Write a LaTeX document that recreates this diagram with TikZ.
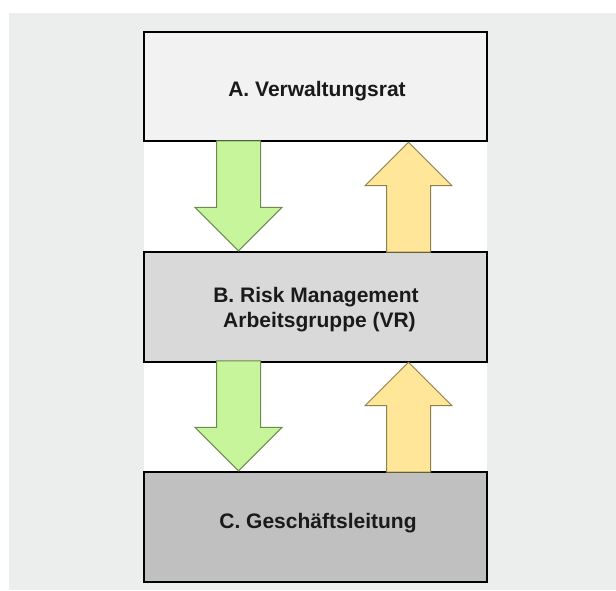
\documentclass[tikz,border=0pt]{standalone}
\usepackage{fontspec}
\setmainfont{Liberation Sans}
\usetikzlibrary{shapes.arrows}
\definecolor{bggray}{HTML}{ECEDED}
\definecolor{fillA}{HTML}{F2F2F2}
\definecolor{fillB}{HTML}{D9D9D9}
\definecolor{fillC}{HTML}{C0C0C0}
\definecolor{downfill}{HTML}{C6F59C}
\definecolor{downdraw}{HTML}{6F8A4C}
\definecolor{upfill}{HTML}{FFE699}
\definecolor{updraw}{HTML}{8E8049}
\definecolor{txt}{HTML}{1A1A1A}
\begin{document}
\begin{tikzpicture}[x=1pt, y=-1pt]
	\tikzstyle{box}=[rectangle, draw=black, line width=1.3pt, minimum width=343pt, minimum height=110pt, inner sep=0pt]
	\tikzstyle{lbl}=[font=\bfseries\fontsize{21}{25}\selectfont, text=txt, align=center, inner sep=0pt]
	\tikzstyle{blockarrow}=[single arrow, line width=1pt, minimum height=110pt, minimum width=86pt, inner sep=21.5pt, single arrow head extend=21.5pt, anchor=tip]
	\useasboundingbox (0, 0) rectangle (616, 590);
	\fill[bggray] (9, 13) rectangle (616, 590);
	\fill[white] (144, 32) rectangle (487, 582);

	\draw node[box, fill=fillA, minimum height=109pt] at (315.5, 86.5) (ra) {};
	\draw node[box, fill=fillB] at (315.5, 307) (rb) {};
	\draw node[box, fill=fillC] at (315.5, 527) (rc) {};

	\draw node[lbl, anchor=base] at (317, 96) (ta) {A. Verwaltungsrat};
	\draw node[lbl, anchor=base] at (316, 327) (tb) {B. Risk Management\\ \hspace*{7pt}Arbeitsgruppe (VR)};
	\draw node[lbl, anchor=base] at (318, 528) (tc) {C. Geschäftsleitung};

	\draw node[blockarrow, rotate=-90, draw=downdraw, fill=downfill] at (238.5, 251.5) (down1) {};
	\draw node[blockarrow, rotate=90, draw=updraw, fill=upfill] at (408.5, 141.5) (up1) {};
	\draw node[blockarrow, rotate=-90, draw=downdraw, fill=downfill] at (238.5, 471.5) (down2) {};
	\draw node[blockarrow, rotate=90, draw=updraw, fill=upfill] at (408.5, 361.5) (up2) {};
\end{tikzpicture}
\end{document}
